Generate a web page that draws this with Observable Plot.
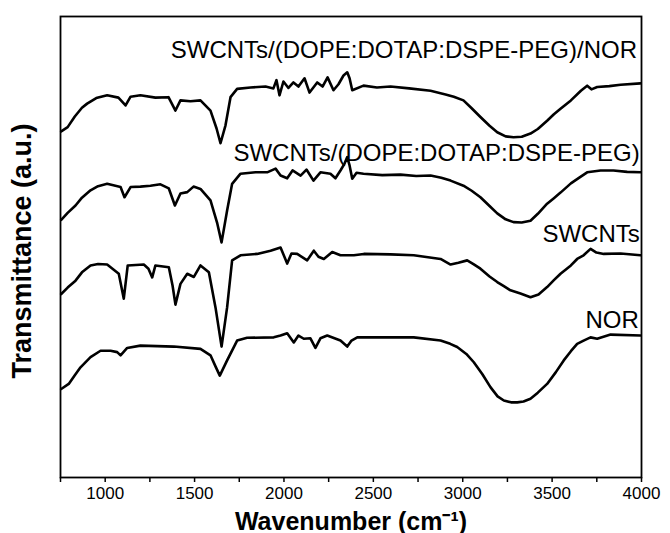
<!DOCTYPE html>
<html>
<head>
<meta charset="utf-8">
<script src="https://cdn.jsdelivr.net/npm/d3@7"></script>
<script src="https://cdn.jsdelivr.net/npm/@observablehq/plot@0.6"></script>
<style>
  html, body { margin: 0; padding: 0; background: #fff; }
  #chart { width: 670px; height: 533px; }
  g[aria-label="curve-labels"] text { letter-spacing: 1.3px; }
  g[aria-label="x-title"] text { letter-spacing: 2.5px; }
  g[aria-label="y-title"] text { letter-spacing: 2.5px; }
</style>
</head>
<body>
<div id="chart"></div>
<script>
// Series names (curve labels)
const seriesNames = [
  "SWCNTs/(DOPE:DOTAP:DSPE-PEG)/NOR",
  "SWCNTs/(DOPE:DOTAP:DSPE-PEG)",
  "SWCNTs",
  "NOR"
];

// SWCNTs/(DOPE:DOTAP:DSPE-PEG)/NOR
const wnA = [754,790,830,870,899,950,1011,1074,1114,1142,1197,1281,1354,1393,1421,1477,1533,1589,1623,1645,1673,1701,1738,1813,1897,1941,1958,1975,1997,2025,2053,2081,2115,2143,2186,2216,2244,2277,2305,2333,2354,2367,2382,2445,2520,2596,2700,2820,2904,2950,3004,3050,3099,3150,3193,3240,3284,3330,3379,3420,3472,3510,3547,3605,3661,3696,3720,3752,3820,3883,3994];
const tA  = [75.1,76.0,78.3,80.2,81.1,82.3,82.9,82.4,80.7,82.6,82.9,82.4,82.5,79.6,81.8,81.6,81.8,79.6,75.7,72.5,76.4,82.5,84.3,84.6,84.8,84.4,86.2,82.9,85.9,84.5,85.7,84.8,86.6,83.5,85.7,84.8,86.8,84.0,85.3,87.2,87.9,86.6,84.0,85.0,84.6,84.8,84.4,83.9,83.1,82.6,81.8,80.1,78.2,76.3,74.9,74.0,73.8,73.9,74.6,75.6,77.4,78.8,80.0,81.8,83.9,85.0,84.2,84.7,84.9,85.2,85.5];

// SWCNTs/(DOPE:DOTAP:DSPE-PEG)
const wnB = [754,790,834,870,918,960,1011,1086,1108,1142,1197,1253,1309,1356,1390,1421,1459,1494,1533,1589,1627,1651,1682,1710,1757,1841,1906,1953,1981,2018,2048,2093,2126,2165,2204,2260,2288,2316,2339,2354,2367,2382,2406,2445,2550,2652,2740,2820,2880,2932,3004,3050,3099,3150,3193,3240,3284,3330,3379,3420,3472,3510,3547,3605,3650,3696,3771,3843,3920,3994];
const tB  = [55.9,57.4,59.0,60.7,62.3,63.2,63.7,63.0,60.8,63.0,63.1,63.3,63.6,62.7,59.0,61.6,61.9,63.1,62.6,60.1,55.1,51.0,57.9,63.7,65.9,66.2,66.2,67.0,65.5,64.9,66.6,65.5,66.8,64.4,66.2,65.9,64.9,66.6,68.1,69.5,67.7,64.8,66.1,65.9,65.6,65.7,65.4,65.5,65.0,64.4,63.3,62.2,60.8,58.9,57.3,56.0,55.4,55.3,55.7,57.2,59.4,60.6,61.8,63.8,65.0,66.2,66.6,66.6,66.3,66.2];

// SWCNTs
const wnC = [754,790,834,870,918,960,1011,1076,1104,1126,1216,1242,1263,1281,1356,1377,1393,1421,1459,1496,1533,1580,1617,1651,1682,1710,1757,1850,1925,1981,2018,2042,2074,2130,2167,2193,2223,2270,2316,2391,2447,2596,2726,2876,2932,2976,3025,3060,3099,3150,3193,3230,3267,3323,3379,3424,3472,3510,3547,3605,3640,3676,3715,3748,3789,3883,3994];
const tC  = [39.8,41.2,42.7,44.5,46.0,46.3,46.2,44.2,38.8,46.0,46.2,45.3,43.4,46.0,45.6,41.6,37.5,42.0,44.2,43.5,46.0,44.5,36.9,28.4,36.9,47.1,48.2,48.5,49.2,49.9,46.4,48.6,48.5,47.1,49.2,47.9,47.4,48.9,48.2,48.2,48.5,48.4,48.2,47.4,46.2,46.6,47.1,46.3,45.3,43.6,42.4,41.5,40.6,39.9,39.1,39.7,41.3,42.8,44.2,46.0,47.4,48.2,49.6,48.8,48.5,48.6,48.2];

// NOR
const wnD = [754,796,830,862,918,974,1030,1067,1086,1123,1197,1384,1533,1589,1617,1641,1682,1738,1794,1943,1981,2018,2055,2081,2111,2148,2176,2204,2242,2316,2354,2378,2410,2726,2876,2930,2969,3020,3062,3110,3155,3195,3230,3270,3305,3340,3379,3420,3472,3520,3565,3605,3640,3676,3715,3752,3827,3994];
const tD  = [19.2,20.3,22.2,23.9,26.1,27.5,27.5,27.2,26.5,28.1,28.6,28.4,27.9,26.5,24.1,22.1,25.4,29.7,30.3,30.4,30.8,31.3,29.3,30.8,30.1,30.2,28.1,30.2,30.8,29.7,28.4,29.7,30.4,30.4,29.7,29.0,28.3,26.8,25.0,22.4,19.6,17.6,16.7,16.3,16.3,16.5,17.1,18.4,20.3,22.8,25.4,27.4,29.0,29.7,30.4,30.1,31.0,30.8];

// Label anchor points (data space)
const labelWn = [3975, 3990, 3990, 3985];
const labelT  = [92.6, 70.3, 52.7, 34.1];

// X ticks
const xTicks = [750,1000,1250,1500,1750,2000,2250,2500,2750,3000,3250,3500,3750,4000];
const xTickLabels = ["","1000","","1500","","2000","","2500","","3000","","3500","","4000"];

const wns = [wnA, wnB, wnC, wnD];
const ts = [tA, tB, tC, tD];
const rows = [];
seriesNames.forEach((name, i) => {
  wns[i].forEach((w, j) => rows.push({series: name, wn: w, t: ts[i][j]}));
});
const labels = seriesNames.map((name, i) => ({name, wn: labelWn[i], t: labelT[i]}));

const font = "'Liberation Sans', Arial, sans-serif";

const chart = Plot.plot({
  width: 670,
  height: 533,
  marginLeft: 60,
  marginRight: 29,
  marginTop: 16,
  marginBottom: 56,
  style: {fontFamily: font, color: "#000", background: "#fff", overflow: "visible"},
  x: {domain: [750, 4000]},
  y: {domain: [0, 100], axis: null},
  marks: [
    Plot.axisX({
      ticks: xTicks,
      tickFormat: (d) => xTickLabels[xTicks.indexOf(d)],
      tickSize: 5,
      tickPadding: 4,
      fontSize: 17,
      stroke: "#000",
      strokeWidth: 1.5,
      label: null
    }),
    Plot.frame({stroke: "#000", strokeWidth: 1.8}),
    Plot.line(rows, {x: "wn", y: "t", z: "series", stroke: "#000", strokeWidth: 2.6, strokeLinejoin: "round"}),
    Plot.text(labels, {x: "wn", y: "t", text: "name", textAnchor: "end", fontSize: 24, fill: "#000", ariaLabel: "curve-labels"}),
    Plot.text(["Wavenumber (cm\u207B\u00B9)"], {frameAnchor: "bottom", dy: 44, lineAnchor: "middle", textAnchor: "middle", fontSize: 25, fontWeight: "bold", fill: "#000", ariaLabel: "x-title"}),
    Plot.text(["Transmittance (a.u.)"], {frameAnchor: "left", dx: -38, dy: 4, rotate: -90, textAnchor: "middle", lineAnchor: "middle", fontSize: 27, fontWeight: "bold", fill: "#000", ariaLabel: "y-title"})
  ]
});
document.getElementById("chart").appendChild(chart);
</script>
</body>
</html>
